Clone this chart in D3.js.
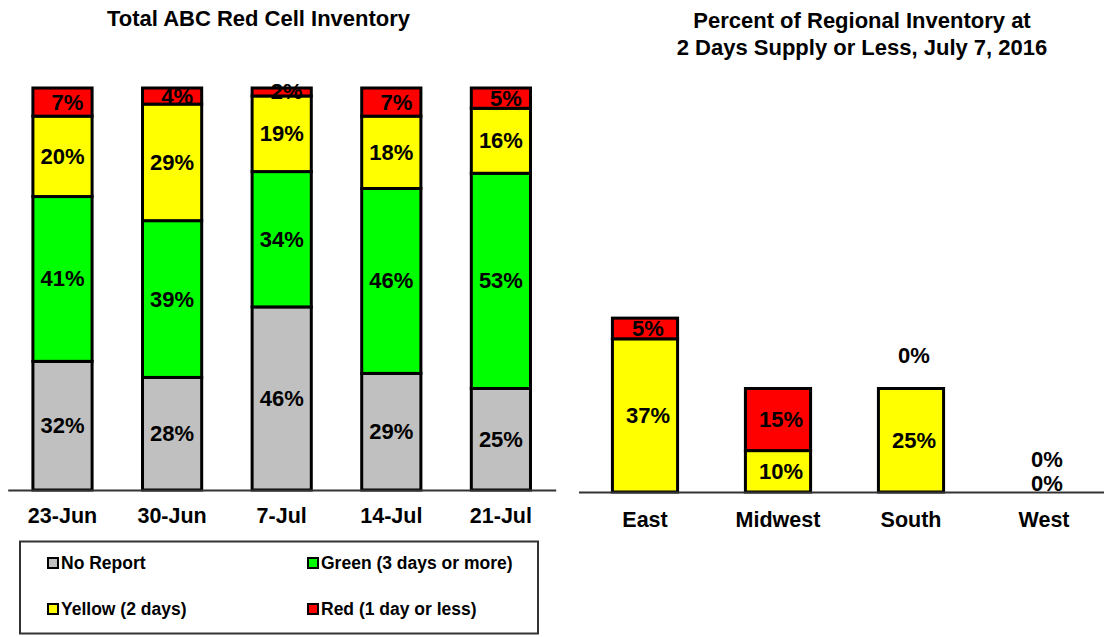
<!DOCTYPE html>
<html>
<head>
<meta charset="utf-8">
<script src="https://cdn.jsdelivr.net/npm/d3@7"></script>
<style>
  body { margin: 0; background: #fff; }
  text { font-family: "Liberation Sans", Arial, sans-serif; font-weight: bold; fill: #000; }
</style>
</head>
<body>
<div id="app"></div>
<script>
// left chart data
const dates = ["23-Jun", "30-Jun", "7-Jul", "14-Jul", "21-Jul"];
const noReport = [32, 28, 46, 29, 25];
const green = [41, 39, 34, 46, 53];
const yellow = [20, 29, 19, 18, 16];
const red = [7, 4, 2, 7, 5];

// right chart data
const regions = ["East", "Midwest", "South", "West"];
const regionYellow = [37, 10, 25, 0];
const regionRed = [5, 15, 0, 0];

const seriesKeys = ["noReport", "green", "yellow", "red"];
const seriesNames = ["No Report", "Green (3 days or more)", "Yellow (2 days)", "Red (1 day or less)"];
const seriesColors = ["#C0C0C0", "#00FF00", "#FFFF00", "#FF0000"];

const width = 1104;
const height = 637;
const svg = d3.select('#app').append('svg')
    .attr('width', width).attr('height', height);

const color = d3.scaleOrdinal().domain(seriesKeys).range(seriesColors);

// ---------- left: total inventory (100% stacked) ----------
const leftRows = dates.map((d, i) => ({
    date: d, noReport: noReport[i], green: green[i], yellow: yellow[i], red: red[i]
}));
const leftStack = d3.stack().keys(seriesKeys).offset(d3.stackOffsetExpand)(leftRows);

const x1 = d3.scaleBand().domain(dates).range([7.7, 555.7])
    .paddingInner(0.46).paddingOuter(0.23);
const y1 = d3.scaleLinear().domain([0, 1]).range([490, 88]);

const left = svg.append('g');
const layers = left.selectAll('g.layer').data(leftStack).join('g')
    .attr('class', 'layer')
    .attr('fill', d => color(d.key));

layers.selectAll('rect').data(d => d).join('rect')
    .attr('x', d => x1(d.data.date))
    .attr('width', x1.bandwidth())
    .attr('y', d => y1(d[1]))
    .attr('height', d => y1(d[0]) - y1(d[1]))
    .attr('stroke', '#000')
    .attr('stroke-width', 3);

layers.selectAll('text').data(d => d.map(v => ({ v, key: d.key }))).join('text')
    .attr('x', d => x1(d.v.data.date) + x1.bandwidth() / 2 + (d.key === 'red' ? 5 : 0))
    .attr('y', d => (y1(d.v[0]) + y1(d.v[1])) / 2)
    .attr('text-anchor', 'middle')
    .attr('dominant-baseline', 'central')
    .style('font-size', '22px')
    .text(d => d.v.data[d.key] + '%');

left.append('g')
    .attr('transform', 'translate(0,490)')
    .call(d3.axisBottom(x1).tickSize(0).tickSizeOuter(0).tickPadding(18))
    .call(g => g.select('.domain').attr('stroke', '#333').attr('stroke-width', 2))
    .call(g => g.selectAll('text').style('font-size', '21.5px')
        .style('font-family', '"Liberation Sans", Arial, sans-serif'));

svg.append('text')
    .attr('x', 258.5).attr('y', 26)
    .attr('text-anchor', 'middle')
    .style('font-size', '22px')
    .text('Total ABC Red Cell Inventory');

// legend
const legend = svg.append('g');
legend.append('rect')
    .attr('x', 20).attr('y', 541.5)
    .attr('width', 518).attr('height', 92)
    .attr('fill', 'none')
    .attr('stroke', '#333')
    .attr('stroke-width', 2);

const legendPos = [[47, 563], [307, 563], [47, 609], [307, 609]];
const legendOrder = [0, 1, 2, 3];
const item = legend.selectAll('g.item').data(legendOrder).join('g')
    .attr('class', 'item')
    .attr('transform', i => `translate(${legendPos[i][0]},${legendPos[i][1]})`);
item.append('rect')
    .attr('x', 1).attr('y', -5)
    .attr('width', 10).attr('height', 10)
    .attr('fill', i => seriesColors[i])
    .attr('stroke', '#000')
    .attr('stroke-width', 2);
item.append('text')
    .attr('x', 14).attr('y', 0)
    .attr('dominant-baseline', 'central')
    .style('font-size', '17.5px')
    .text(i => seriesNames[i]);

// ---------- right: regional inventory ----------
const rightRows = regions.map((r, i) => ({ region: r, yellow: regionYellow[i], red: regionRed[i] }));
const rightStack = d3.stack().keys(["yellow", "red"])(rightRows);

const x2 = d3.scaleBand().domain(regions).range([578.5, 1110.5])
    .paddingInner(0.51).paddingOuter(0.255);
const y2 = d3.scaleLinear().domain([0, 100]).range([492, 78]);

const right = svg.append('g');
const rLayers = right.selectAll('g.layer').data(rightStack).join('g')
    .attr('class', 'layer')
    .attr('fill', d => color(d.key));

rLayers.selectAll('rect').data(d => d.filter(v => v[1] > v[0])).join('rect')
    .attr('x', d => x2(d.data.region))
    .attr('width', x2.bandwidth())
    .attr('y', d => y2(d[1]))
    .attr('height', d => y2(d[0]) - y2(d[1]))
    .attr('stroke', '#000')
    .attr('stroke-width', 3);

// zero-valued segments get their label lifted above the stack
const zeroLift = { yellow: 9, red: 33 };
rLayers.selectAll('text').data(d => d.map(v => ({ v, key: d.key }))).join('text')
    .attr('x', d => x2(d.v.data.region) + x2.bandwidth() / 2 + 3)
    .attr('y', d => d.v.data[d.key] === 0
        ? y2(d.v[1]) - zeroLift[d.key]
        : (y2(d.v[0]) + y2(d.v[1])) / 2)
    .attr('text-anchor', 'middle')
    .attr('dominant-baseline', 'central')
    .style('font-size', '22px')
    .text(d => d.v.data[d.key] + '%');

right.append('g')
    .attr('transform', 'translate(0,492)')
    .call(d3.axisBottom(x2).tickSize(0).tickSizeOuter(0).tickPadding(19.5))
    .call(g => g.select('.domain').attr('stroke', '#333').attr('stroke-width', 2))
    .call(g => g.selectAll('text').style('font-size', '21.5px')
        .style('font-family', '"Liberation Sans", Arial, sans-serif'));

const rTitle = svg.append('text')
    .attr('x', 862).attr('y', 28)
    .attr('text-anchor', 'middle')
    .style('font-size', '22px');
rTitle.append('tspan').attr('x', 862).text('Percent of Regional Inventory at');
rTitle.append('tspan').attr('x', 862).attr('dy', 26.5).text('2 Days Supply or Less, July 7, 2016');
</script>
</body>
</html>
